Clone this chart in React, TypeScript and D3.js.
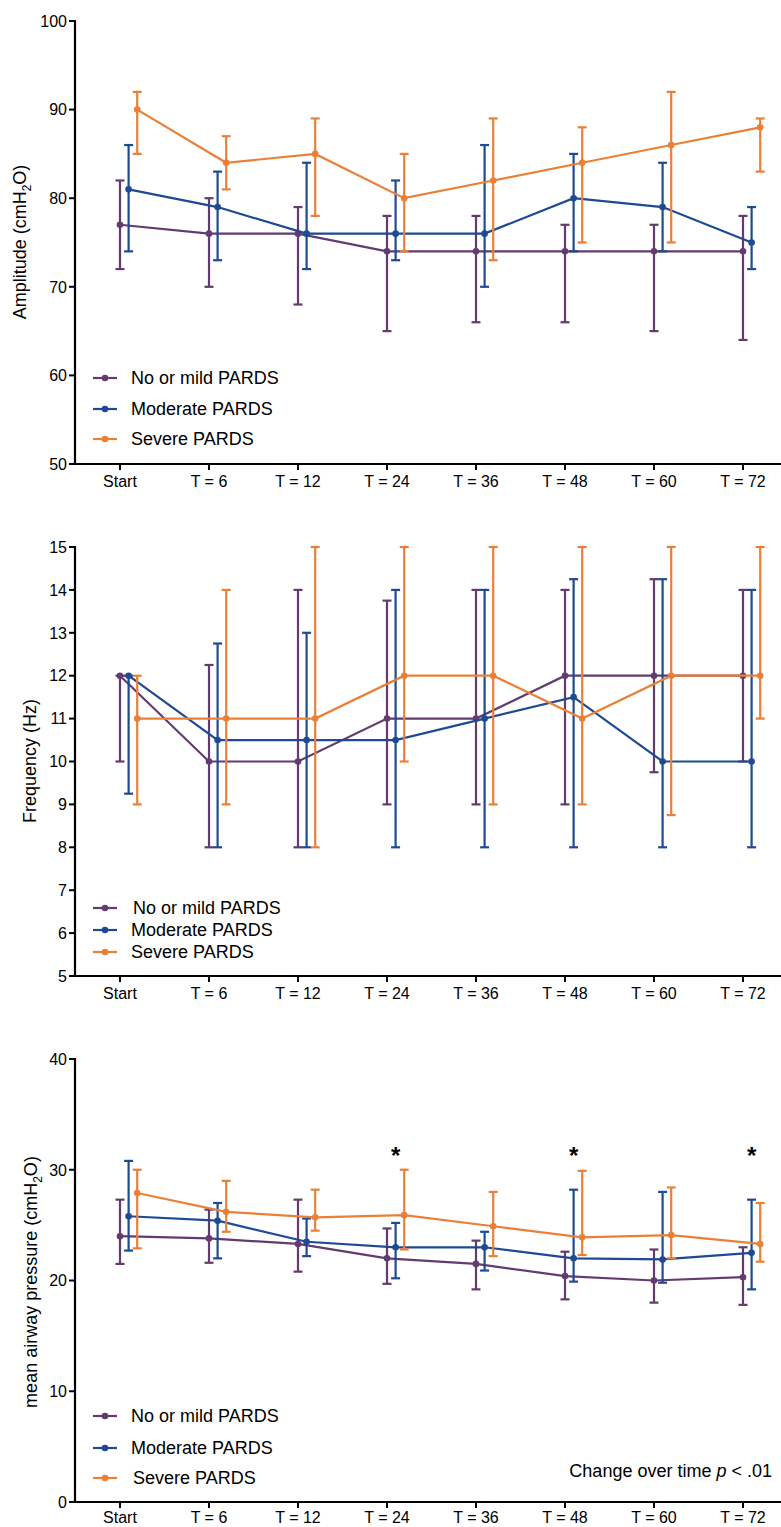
import React from "react";
import * as d3 from "d3";

const categories = ["Start", "T = 6", "T = 12", "T = 24", "T = 36", "T = 48", "T = 60", "T = 72"];
const seriesNames = ["No or mild PARDS", "Moderate PARDS", "Severe PARDS"];
const seriesColors = ["#633B6E", "#1D4A93", "#EA8038"];

// Amplitude (cmH2O): median, lower, upper
const ampMild = [77, 76, 76, 74, 74, 74, 74, 74];
const ampMildLo = [72, 70, 68, 65, 66, 66, 65, 64];
const ampMildHi = [82, 80, 79, 78, 78, 77, 77, 78];
const ampMod = [81, 79, 76, 76, 76, 80, 79, 75];
const ampModLo = [74, 73, 72, 73, 70, 74, 74, 72];
const ampModHi = [86, 83, 84, 82, 86, 85, 84, 79];
const ampSev = [90, 84, 85, 80, 82, 84, 86, 88];
const ampSevLo = [85, 81, 78, 74, 73, 75, 75, 83];
const ampSevHi = [92, 87, 89, 85, 89, 88, 92, 89];

// Frequency (Hz)
const freqMild = [12, 10, 10, 11, 11, 12, 12, 12];
const freqMildLo = [10, 8, 8, 9, 9, 9, 9.75, 10];
const freqMildHi = [12, 12.25, 14, 13.75, 14, 14, 14.25, 14];
const freqMod = [12, 10.5, 10.5, 10.5, 11, 11.5, 10, 10];
const freqModLo = [9.25, 8, 8, 8, 8, 8, 8, 8];
const freqModHi = [12, 12.75, 13, 14, 14, 14.25, 14.25, 14];
const freqSev = [11, 11, 11, 12, 12, 11, 12, 12];
const freqSevLo = [9, 9, 8, 10, 9, 9, 8.75, 11];
const freqSevHi = [12, 14, 15, 15, 15, 15, 15, 15];

// Mean airway pressure (cmH2O)
const mapMild = [24.0, 23.8, 23.3, 22.0, 21.5, 20.4, 20.0, 20.3];
const mapMildLo = [21.5, 21.6, 20.8, 19.7, 19.2, 18.3, 18.0, 17.8];
const mapMildHi = [27.3, 26.4, 27.3, 24.7, 23.6, 22.6, 22.8, 23.0];
const mapMod = [25.8, 25.4, 23.5, 23.0, 23.0, 22.0, 21.9, 22.5];
const mapModLo = [22.7, 22.0, 22.2, 20.2, 20.9, 19.9, 19.8, 19.2];
const mapModHi = [30.8, 27.0, 25.6, 25.2, 24.4, 28.2, 28.0, 27.3];
const mapSev = [27.9, 26.2, 25.7, 25.9, 24.9, 23.9, 24.1, 23.3];
const mapSevLo = [22.9, 24.4, 24.5, 22.8, 22.2, 22.3, 22.0, 21.7];
const mapSevHi = [30.0, 29.0, 28.2, 30.0, 28.0, 29.9, 28.4, 27.0];

const mapStarCategories = ["T = 24", "T = 48", "T = 72"];
const ampTicks = [50, 60, 70, 80, 90, 100];
const freqTicks = [5, 6, 7, 8, 9, 10, 11, 12, 13, 14, 15];
const mapTicks = [0, 10, 20, 30, 40];

type Series = { mid: number[]; lo: number[]; hi: number[] };

const FONT = "'Liberation Sans', Arial, Helvetica, sans-serif";
const offsets = [0, 8.6, 17.2];
const AX_LEFT = 75;
const AX_RIGHT = 781;

const x = d3.scalePoint<string>().domain(categories).range([120, 743]);

function Panel(props: {
  domain: [number, number];
  range: [number, number];
  ticks: number[];
  series: Series[];
  title: React.ReactNode;
  titleX: number;
  titleY: number;
  legendY: number[];
  legendTextX: number[];
  labelOffset: number;
  children?: React.ReactNode;
}) {
  const { domain, range, ticks, series, title, titleX, titleY, legendY, legendTextX, labelOffset } = props;
  const y = d3.scaleLinear().domain(domain).range(range);
  const axisY = range[0];
  return (
    <g>
      {series.map((s, si) => {
        const color = seriesColors[si];
        const line = d3
          .line<number>()
          .x((_, i) => (x(categories[i]) as number) + offsets[si])
          .y((d) => y(d));
        return (
          <g key={si}>
            <path d={line(s.mid) || ""} fill="none" stroke={color} strokeWidth={2.2} />
            {s.mid.map((v, i) => {
              const cx = (x(categories[i]) as number) + offsets[si];
              return (
                <g key={i}>
                  <line x1={cx} x2={cx} y1={y(s.lo[i])} y2={y(s.hi[i])} stroke={color} strokeWidth={2.2} />
                  <line x1={cx - 4.5} x2={cx + 4.5} y1={y(s.lo[i])} y2={y(s.lo[i])} stroke={color} strokeWidth={2.2} />
                  <line x1={cx - 4.5} x2={cx + 4.5} y1={y(s.hi[i])} y2={y(s.hi[i])} stroke={color} strokeWidth={2.2} />
                  <circle cx={cx} cy={y(v)} r={3.3} fill={color} />
                </g>
              );
            })}
          </g>
        );
      })}
      <line x1={AX_LEFT} x2={AX_LEFT} y1={y(domain[1]) - 1} y2={axisY} stroke="#000" strokeWidth={2.2} />
      <line x1={AX_LEFT - 1} x2={AX_RIGHT} y1={axisY} y2={axisY} stroke="#000" strokeWidth={2.2} />
      {ticks.map((t) => (
        <g key={t}>
          <line x1={AX_LEFT - 6} x2={AX_LEFT} y1={y(t)} y2={y(t)} stroke="#000" strokeWidth={2} />
          <text x={AX_LEFT - 8} y={y(t)} dy="0.36em" textAnchor="end" fontSize={16} fontFamily={FONT} fill="#000">
            {t}
          </text>
        </g>
      ))}
      {categories.map((c) => (
        <g key={c}>
          <line x1={x(c) as number} x2={x(c) as number} y1={axisY} y2={axisY + 6} stroke="#000" strokeWidth={2} />
          <text x={x(c) as number} y={axisY + labelOffset} textAnchor="middle" fontSize={16} fontFamily={FONT} fill="#000">
            {c}
          </text>
        </g>
      ))}
      <text
        transform={`translate(${titleX},${titleY}) rotate(-90)`}
        textAnchor="middle"
        fontSize={18}
        fontFamily={FONT}
        fill="#000"
      >
        {title}
      </text>
      {seriesNames.map((n, si) => (
        <g key={n}>
          <line x1={93} x2={117} y1={legendY[si]} y2={legendY[si]} stroke={seriesColors[si]} strokeWidth={2.2} />
          <circle cx={105} cy={legendY[si]} r={3.3} fill={seriesColors[si]} />
          <text x={legendTextX[si]} y={legendY[si]} dy="0.36em" fontSize={18} fontFamily={FONT} fill="#000">
            {n}
          </text>
        </g>
      ))}
      {props.children}
    </g>
  );
}

const cmH2O = (prefix: string) => (
  <>
    {prefix}(cmH
    <tspan fontSize={12} dy={5}>2</tspan>
    <tspan dy={-5}>O)</tspan>
  </>
);

export default function App() {
  const mapY = d3.scaleLinear().domain([0, 40]).range([1502, 1059]);
  return (
    <svg width={781} height={1527} style={{ position: "absolute", left: 0, top: 0, background: "#fff" }}>
      <rect width={781} height={1527} fill="#fff" />
      <Panel
        domain={[50, 100]}
        range={[464, 21]}
        ticks={ampTicks}
        series={[
          { mid: ampMild, lo: ampMildLo, hi: ampMildHi },
          { mid: ampMod, lo: ampModLo, hi: ampModHi },
          { mid: ampSev, lo: ampSevLo, hi: ampSevHi },
        ]}
        title={cmH2O("Amplitude ")}
        titleX={26}
        titleY={242}
        legendY={[378, 409, 439]}
        legendTextX={[131, 131, 131]}
        labelOffset={23}
      />
      <Panel
        domain={[5, 15]}
        range={[976, 547]}
        ticks={freqTicks}
        series={[
          { mid: freqMild, lo: freqMildLo, hi: freqMildHi },
          { mid: freqMod, lo: freqModLo, hi: freqModHi },
          { mid: freqSev, lo: freqSevLo, hi: freqSevHi },
        ]}
        title="Frequency (Hz)"
        titleX={36}
        titleY={761}
        legendY={[908, 930, 952]}
        legendTextX={[133, 131, 131]}
        labelOffset={23}
      />
      <Panel
        domain={[0, 40]}
        range={[1502, 1059]}
        ticks={mapTicks}
        series={[
          { mid: mapMild, lo: mapMildLo, hi: mapMildHi },
          { mid: mapMod, lo: mapModLo, hi: mapModHi },
          { mid: mapSev, lo: mapSevLo, hi: mapSevHi },
        ]}
        title={cmH2O("mean airway pressure ")}
        titleX={37}
        titleY={1282}
        legendY={[1416, 1448, 1478]}
        legendTextX={[131, 131, 133]}
        labelOffset={20.5}
      >
        {mapStarCategories.map((c) => (
          <text
            key={c}
            x={(x(c) as number) + offsets[1]}
            y={mapY(32)}
            dy="0.7em"
            textAnchor="middle"
            fontSize={24}
            fontWeight="bold"
            fontFamily={FONT}
            fill="#000"
          >
            *
          </text>
        ))}
        <text x={772} y={1477} textAnchor="end" fontSize={18} fontFamily={FONT} fill="#000">
          Change over time <tspan fontStyle="italic">p</tspan> &lt; .01
        </text>
      </Panel>
    </svg>
  );
}
